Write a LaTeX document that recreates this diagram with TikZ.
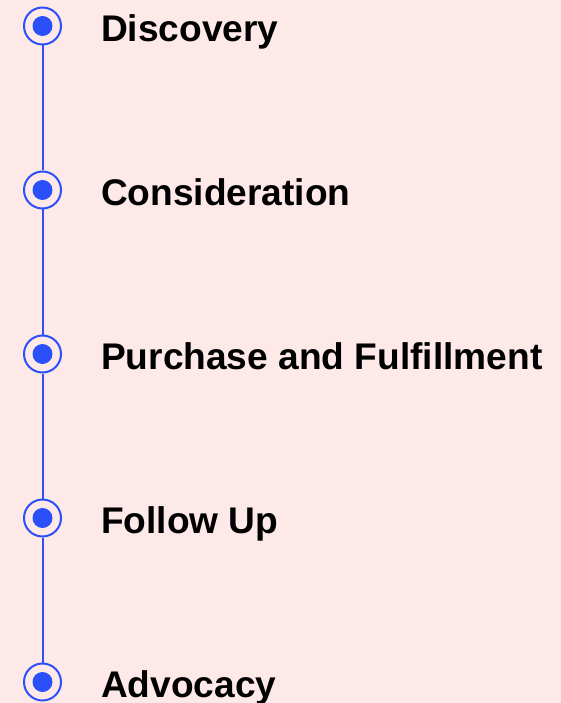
\documentclass[tikz,border=0pt]{standalone}
\usepackage{fontspec}
\setmainfont{Liberation Sans}
\definecolor{bg}{HTML}{FCE9E8}
\definecolor{blu}{HTML}{2B50FA}
\begin{document}
\begin{tikzpicture}[x=1pt,y=-1pt,
  ring/.style={circle,draw=blu,line width=2pt,minimum size=37pt,inner sep=0pt,fill=bg},
  dot/.style={circle,fill=blu,minimum size=20pt,inner sep=0pt},
  lbl/.style={anchor=base west,inner sep=0pt,font=\fontsize{37.1}{40}\selectfont\bfseries,text=black},
  link/.style={draw=blu,line width=2pt}]
\fill[bg] (0,0) rectangle (561,703);
\useasboundingbox (0,0) rectangle (561,703);
\foreach \i/\y/\t in {1/26/Discovery,2/190/Consideration,3/354/Purchase and Fulfillment,4/518/Follow Up,5/682/Advocacy}{
  \node[ring] (r\i) at (42.5,\y) {};
  \node[dot] (d\i) at (42.5,\y) {};
  \node[lbl] (t\i) at (101,\y+15.3) {\t};
}
\foreach \a/\b in {1/2,2/3,3/4,4/5}{
  \draw[link] (r\a) -- (r\b);
}
\end{tikzpicture}
\end{document}
